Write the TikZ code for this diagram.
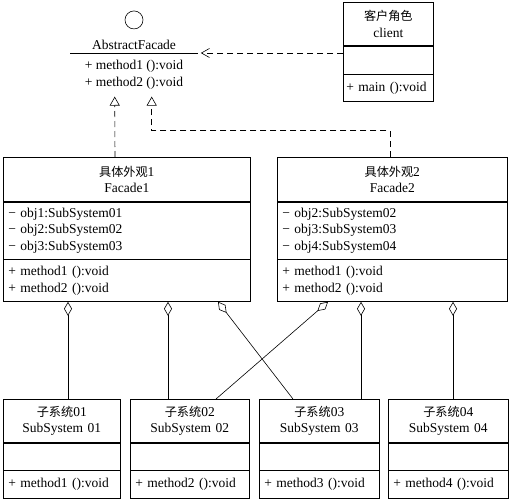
\documentclass[tikz,border=0pt]{standalone}
\usepackage{fontspec}
\setmainfont{Liberation Serif}
\newfontfamily\cjk[Scale=0.9]{Noto Sans CJK SC}
\usetikzlibrary{arrows.meta,positioning,calc}

\begin{document}
\begin{tikzpicture}[x=1pt,y=-1pt,line width=0.6pt,font=\fontsize{13.5}{16.5}\selectfont,
   head/.style={draw,align=center,inner xsep=5pt,inner ysep=0pt,text width=#1},
   body/.style={draw,align=left,inner xsep=5pt,inner ysep=0pt,text width=#1},
   dep/.style={-{Straight Barb[length=8pt,width=9pt]},dash pattern=on 6pt off 4pt},
   impl/.style={-{Triangle[open,length=9pt,width=10pt]},dash pattern=on 6pt off 4pt},
   agg/.style={{Diamond[open,length=14pt,width=8pt]}-}]
   \useasboundingbox (0,0) rectangle (510,500);

   % interface
   \node[minimum width=127pt,minimum height=43pt,inner sep=0pt,align=left,anchor=north] (afops) at (134,53) {+ method1 ():void\\+ method2 ():void};
   \node[above=0pt of afops] (afname) {AbstractFacade};
   \node[circle,draw,minimum size=18pt,inner sep=0pt,above=7pt of afname] (ball) {};
   \draw (afops.north west) -- (afops.north east);

   % client
   \node[head=84pt,inner xsep=3pt,minimum height=43pt,anchor=north west] (clienthead) at (343,2) {{\cjk 客户角色}\\client};
   \node[body=84pt,inner xsep=3pt,minimum height=28pt,below=0pt of clienthead] (clientattr) {};
   \node[body=84pt,inner xsep=3pt,minimum height=27pt,below=0pt of clientattr] (clientops) {+ main ():void};

   % facades
   \node[head=237pt,minimum height=44pt,anchor=north west] (f1head) at (3,157) {{\cjk 具体外观}1\\Facade1};
   \node[body=237pt,minimum height=57pt,below=0pt of f1head] (f1attr) {− obj1:SubSystem01\\− obj2:SubSystem02\\− obj3:SubSystem03};
   \node[body=237pt,minimum height=42pt,below=0pt of f1attr] (f1ops) {+ method1 ():void\\+ method2 ():void};

   \node[head=220pt,minimum height=44pt,anchor=north west] (f2head) at (277,157) {{\cjk 具体外观}2\\Facade2};
   \node[body=220pt,minimum height=57pt,below=0pt of f2head] (f2attr) {− obj2:SubSystem02\\− obj3:SubSystem03\\− obj4:SubSystem04};
   \node[body=220pt,minimum height=42pt,below=0pt of f2attr] (f2ops) {+ method1 ():void\\+ method2 ():void};

   % subsystems
   \foreach \i/\x/\w in {1/3/107,2/130/109,3/259/110,4/388/110} {
      \node[head=\w pt,minimum height=43pt,anchor=north west] (sub\i) at (\x,399) {{\cjk 子系统}0\i\\SubSystem 0\i};
      \node[body=\w pt,minimum height=27pt,below=0pt of sub\i] (subm\i) {};
      \node[body=\w pt,minimum height=28pt,below=0pt of subm\i] (subo\i) {+ method\i{} ():void};
   }

   % relations
   \draw[dep] (clientattr.west |- afops.north) -- ($(afops.north east)+(3,0)$);
   \draw[impl] ($(f1head.north west)+(112,0)$) -- ($(afops.south west)+(44.5,0)$);
   \draw[impl] ($(f2head.north west)+(113,0)$) |- ($(afops.south west)+(81.5,34)$) -- ($(afops.south west)+(81.5,0)$);

   \draw[agg] ($(f1ops.south west)+(65,0)$) -- ($(sub1.north west)+(65,0)$);
   \draw[agg] ($(f1ops.south west)+(165,0)$) -- ($(sub2.north west)+(38,0)$);
   \draw[agg] ($(f1ops.south west)+(215,0)$) -- ($(sub3.north west)+(34,0)$);
   \draw[agg] ($(f2ops.south west)+(51,0)$) -- ($(sub2.north west)+(86,0)$);
   \draw[agg] ($(f2ops.south west)+(84,0)$) -- ($(sub3.north west)+(102,0)$);
   \draw[agg] ($(f2ops.south west)+(176,0)$) -- ($(sub4.north west)+(65,0)$);
\end{tikzpicture}
\end{document}
